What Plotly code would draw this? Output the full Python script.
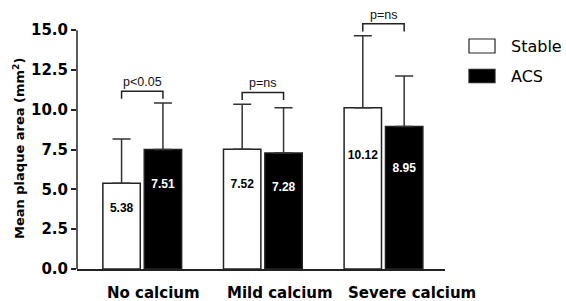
import plotly.graph_objects as go

# ---------------- data ----------------
categories = ["No calcium", "Mild calcium", "Severe calcium"]
series_names = ["Stable", "ACS"]
stable_mean = [5.38, 7.52, 10.12]
acs_mean = [7.51, 7.28, 8.95]
stable_sd = [2.78, 2.82, 4.53]
acs_sd = [2.91, 2.85, 3.17]
p_labels = ["p<0.05", "p=ns", "p=ns"]
y_tick_vals = [0, 2.5, 5, 7.5, 10, 12.5, 15]
y_tick_text = ["0.0", "2.5", "5.0", "7.5", "10.0", "12.5", "15.0"]
y_title = "Mean plaque area (mm<sup>2</sup>)"

# ---------------- layout constants ----------------
W, H = 566, 301
ML, MR, MT, MB = 77, 121, 19, 32
PW, PH = W - ML - MR, H - MT - MB
Y_MAX_AXIS = 15
Y_RANGE = [0, 15.7]
X_RANGE = [-0.541, 2.51]
BARGAP, BARGROUPGAP = 0.314, 0.096
DARK = "#222222"
EB = "#333333"

def px_x(px):  # pixel -> paper x
    return (px - ML) / PW

def px_y(py):  # pixel -> paper y
    return (H - MB - py) / PH

xs = list(range(len(categories)))
half_slot = (1 - BARGAP) / 4

fig = go.Figure()
fig.add_trace(go.Bar(
    x=xs, y=stable_mean, name=series_names[0],
    marker=dict(color="white", line=dict(color=DARK, width=1.5)),
    error_y=dict(type="data", symmetric=False, array=stable_sd,
                 arrayminus=[0] * len(xs), color=EB, thickness=1.5, width=9),
    showlegend=False,
))
fig.add_trace(go.Bar(
    x=xs, y=acs_mean, name=series_names[1],
    marker=dict(color="black", line=dict(color=DARK, width=1.5)),
    error_y=dict(type="data", symmetric=False, array=acs_sd,
                 arrayminus=[0] * len(xs), color=EB, thickness=1.5, width=9),
    showlegend=False,
))

# value labels inside bars
lbl_x, lbl_y, lbl_t, lbl_c = [], [], [], []
for i in xs:
    for off, vals, col in ((-half_slot, stable_mean, "black"), (half_slot, acs_mean, "white")):
        lbl_x.append(i + off)
        lbl_y.append(vals[i] * 0.7)
        lbl_t.append(f"{vals[i]:.2f}")
        lbl_c.append(col)
fig.add_trace(go.Scatter(
    x=lbl_x, y=lbl_y, text=lbl_t, mode="text",
    textfont=dict(family="Liberation Sans", size=12, weight="bold", color=lbl_c),
    showlegend=False, hoverinfo="skip", cliponaxis=False,
))

shapes = []
annotations = []

# significance brackets
for i in xs:
    top = max(stable_mean[i] + stable_sd[i], acs_mean[i] + acs_sd[i]) + 0.75
    bot = top - 0.48
    x0, x1 = i - half_slot, i + half_slot
    shapes.append(dict(type="path", xref="x", yref="y",
                       path=f"M {x0},{bot} L {x0},{top} L {x1},{top} L {x1},{bot}",
                       line=dict(color=DARK, width=1.5)))
    annotations.append(dict(x=i, y=top, xref="x", yref="y", text=p_labels[i],
                            showarrow=False, yanchor="bottom", xanchor="center", yshift=0,
                            font=dict(family="Liberation Sans", size=12.5, color="#111")))

# y axis line (only up to 15)
shapes.append(dict(type="line", xref="x domain", yref="y domain", x0=0, x1=0,
                   y0=0, y1=Y_MAX_AXIS / Y_RANGE[1], line=dict(color=DARK, width=1.5)))

# category labels (paper y so they are not hidden below the axis range)
for i, c in enumerate(categories):
    annotations.append(dict(x=i - 0.31, y=px_y(292.5), xref="x", yref="paper", text=c,
                            showarrow=False, xanchor="left", yanchor="middle",
                            font=dict(family="DejaVu Sans", size=15, weight="bold", color="black")))

# y title
annotations.append(dict(x=px_x(18.5), y=px_y(148.5), xref="paper", yref="paper",
                        text=y_title, textangle=-90, showarrow=False,
                        xanchor="center", yanchor="middle",
                        font=dict(family="DejaVu Sans", size=13, weight="bold", color="black")))

# manual legend
legend_fill = ["white", "black"]
legend_box_y = [(39, 53), (69.3, 82.7)]
for name, fill, (yt, yb) in zip(series_names, legend_fill, legend_box_y):
    shapes.append(dict(type="rect", xref="paper", yref="paper",
                       x0=px_x(469), x1=px_x(495), y0=px_y(yb), y1=px_y(yt),
                       fillcolor=fill, line=dict(color=DARK, width=1.2)))
    annotations.append(dict(x=px_x(509), y=px_y((yt + yb) / 2), xref="paper", yref="paper",
                            text=name, showarrow=False, xanchor="left", yanchor="middle",
                            font=dict(family="DejaVu Sans", size=16, color="black")))

fig.update_layout(
    template="none",
    width=W, height=H,
    margin=dict(l=ML, r=MR, t=MT, b=MB, pad=0, autoexpand=False),
    paper_bgcolor="white", plot_bgcolor="white",
    barmode="group", bargap=BARGAP, bargroupgap=BARGROUPGAP,
    shapes=shapes, annotations=annotations,
    showlegend=False,
    xaxis=dict(range=X_RANGE, showgrid=False, zeroline=False, showticklabels=False,
               automargin=False,
               ticks="", showline=True, linecolor=DARK, linewidth=1.5),
    yaxis=dict(range=Y_RANGE, tickvals=y_tick_vals, ticktext=y_tick_text,
               automargin=False,
               showgrid=False, zeroline=False, showline=False,
               ticks="outside", ticklen=5, tickwidth=1.5, tickcolor=DARK,
               tickfont=dict(family="DejaVu Sans", size=15, weight="bold", color="black")),
)

fig.write_html("out.html", config={"displayModeBar": False},
               post_script="document.body.style.margin='0';document.body.style.padding='0';")
